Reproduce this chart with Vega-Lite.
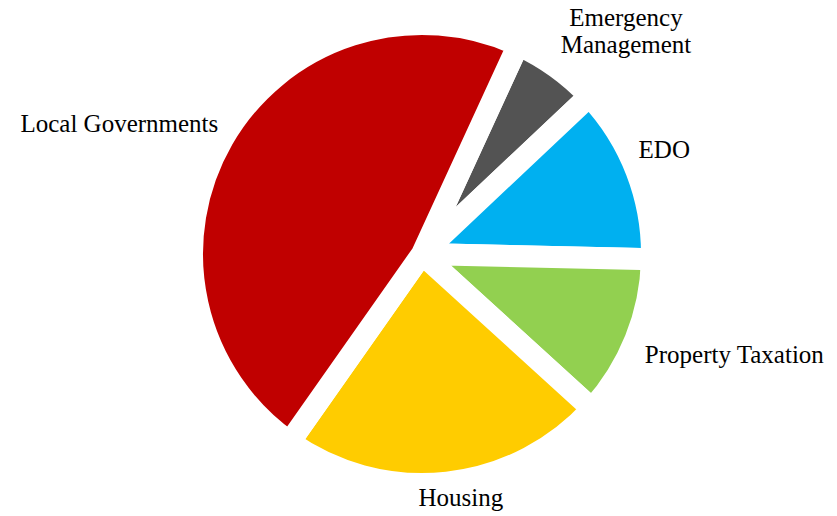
{
  "$schema": "https://vega.github.io/schema/vega-lite/v6.json",
  "width": 837,
  "height": 516,
  "autosize": {"type": "fit", "contains": "padding"},
  "padding": {"left": 7, "right": 0, "top": 0, "bottom": 8},
  "background": "white",
  "view": {"stroke": null},
  "data": {
    "values": [
      {"category": "Emergency Management", "label": "Emergency\nManagement", "share": 6.1, "order": 1},
      {"category": "EDO", "label": "EDO", "share": 12.4, "order": 2},
      {"category": "Property Taxation", "label": "Property Taxation", "share": 11.4, "order": 3},
      {"category": "Housing", "label": "Housing", "share": 23.0, "order": 4},
      {"category": "Local Governments", "label": "Local Governments", "share": 47.1, "order": 5}
    ]
  },
  "encoding": {
    "theta": {"field": "share", "type": "quantitative", "stack": true, "scale": {"range": [0.431, 6.714]}},
    "order": {"field": "order", "type": "quantitative"}
  },
  "layer": [
    {
      "mark": {"type": "arc", "outerRadius": 230, "stroke": "white", "strokeWidth": 22, "strokeJoin": "miter"},
      "encoding": {
        "color": {
          "field": "category",
          "type": "nominal",
          "legend": null,
          "scale": {
            "domain": ["Emergency Management", "EDO", "Property Taxation", "Housing", "Local Governments"],
            "range": ["#535353", "#00B0F0", "#92D050", "#FFCC00", "#C00000"]
          }
        }
      }
    },
    {
      "mark": {"type": "text", "radius": 240, "dx": 64, "dy": -28, "align": "center", "baseline": "bottom", "font": "Liberation Serif", "fontSize": 25, "lineBreak": "\n", "color": "black"},
      "encoding": {"text": {"condition": {"test": "datum.order == 1", "field": "label"}, "value": ""}}
    },
    {
      "mark": {"type": "text", "radius": 232, "dy": -8, "align": "left", "baseline": "bottom", "font": "Liberation Serif", "fontSize": 25, "color": "black"},
      "encoding": {"text": {"condition": {"test": "datum.order == 2", "field": "label"}, "value": ""}}
    },
    {
      "mark": {"type": "text", "radius": 240, "align": "left", "baseline": "top", "font": "Liberation Serif", "fontSize": 25, "color": "black"},
      "encoding": {"text": {"condition": {"test": "datum.order == 3", "field": "label"}, "value": ""}}
    },
    {
      "mark": {"type": "text", "radius": 245, "dx": 12, "align": "center", "baseline": "middle", "font": "Liberation Serif", "fontSize": 25, "color": "black"},
      "encoding": {"text": {"condition": {"test": "datum.order == 4", "field": "label"}, "value": ""}}
    },
    {
      "mark": {"type": "text", "radius": 235, "align": "right", "baseline": "bottom", "font": "Liberation Serif", "fontSize": 25, "color": "black"},
      "encoding": {"text": {"condition": {"test": "datum.order == 5", "field": "label"}, "value": ""}}
    }
  ]
}
